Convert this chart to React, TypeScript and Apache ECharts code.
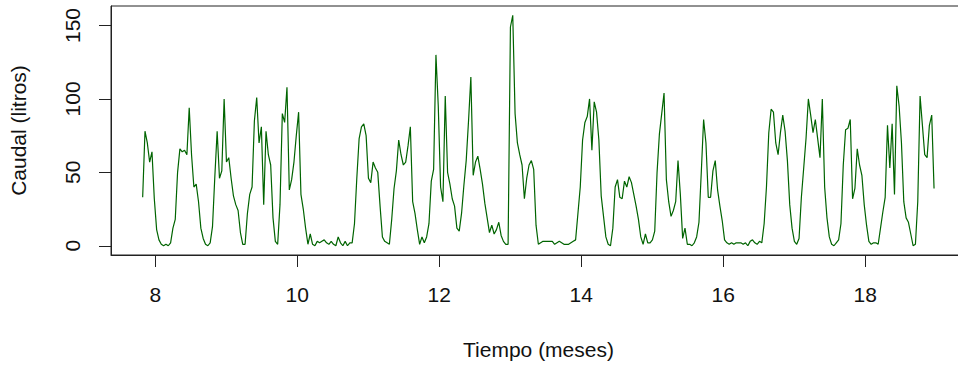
import React, { useEffect, useRef } from "react";
import * as echarts from "echarts";

// Serie diaria de caudal (litros), tiempo en meses
const tiempoInicio = 7.823;
const pasoDia = 0.032785;
const caudal = [
  33, 78, 70, 57, 64, 32, 11, 4, 1, 0, 1, 0, 2, 12, 18, 50, 66, 64, 65, 62,
  94, 62, 40, 42, 30, 12, 5, 1, 0, 2, 13, 47, 78, 46, 51, 100, 57, 60, 46, 34,
  28, 24, 9, 1, 1, 22, 35, 40, 85, 101, 70, 81, 28, 78, 62, 55, 19, 3, 1, 28,
  90, 84, 108, 38, 45, 57, 75, 91, 35, 25, 12, 1, 8, 1, 0, 3, 2, 3, 4, 2,
  1, 3, 1, 0, 6, 2, 0, 3, 0, 2, 2, 15, 46, 73, 81, 83, 75, 46, 43, 57,
  53, 50, 27, 6, 3, 2, 1, 18, 39, 51, 72, 62, 55, 57, 68, 81, 30, 22, 11, 1,
  6, 2, 6, 15, 44, 52, 130, 95, 40, 30, 102, 50, 42, 32, 27, 12, 10, 22, 41, 58,
  85, 115, 48, 57, 61, 52, 42, 29, 19, 9, 14, 8, 11, 16, 7, 3, 1, 1, 149, 157,
  90, 70, 62, 55, 32, 46, 55, 58, 52, 14, 1, 2, 3, 3, 3, 3, 3, 1, 2, 3,
  2, 1, 1, 1, 2, 3, 4, 22, 40, 72, 84, 88, 100, 65, 98, 91, 72, 34, 20, 6,
  1, 0, 12, 40, 45, 33, 32, 44, 40, 47, 43, 35, 27, 18, 6, 1, 8, 2, 2, 4,
  10, 50, 76, 90, 104, 45, 30, 20, 24, 30, 58, 35, 5, 12, 1, 1, 0, 2, 6, 16,
  50, 86, 70, 33, 33, 51, 58, 38, 27, 17, 4, 2, 1, 2, 1, 2, 2, 2, 1, 2,
  0, 3, 4, 2, 1, 3, 2, 15, 40, 77, 93, 91, 70, 62, 77, 89, 78, 58, 28, 12,
  3, 1, 5, 33, 53, 73, 100, 89, 77, 86, 73, 60, 100, 40, 19, 6, 1, 0, 2, 4,
  15, 55, 79, 80, 86, 32, 39, 66, 55, 48, 28, 14, 3, 1, 2, 2, 1, 12, 23, 33,
  82, 53, 83, 35, 109, 95, 70, 30, 19, 16, 8, 0, 1, 30, 102, 82, 62, 60, 82, 89,
  39,
];

const ticksX = [8, 10, 12, 14, 16, 18];
const ticksY = [0, 50, 100, 150];
const limX = [7.377, 19.42];
const limY = [-6.3, 163.3];

const fuente = "'Liberation Sans', Arial, sans-serif";

export default function App() {
  const ref = useRef<HTMLDivElement>(null);
  useEffect(() => {
    const chart = echarts.init(ref.current!, undefined, { renderer: "svg" });
    const datos = caudal.map((v, i) => [tiempoInicio + i * pasoDia, v]);
    chart.setOption({
      animation: false,
      backgroundColor: "#ffffff",
      grid: {
        show: true,
        left: 111,
        top: 6,
        width: 855,
        height: 252,
        borderColor: "#222",
        borderWidth: 1,
        backgroundColor: "transparent",
      },
      xAxis: {
        type: "value",
        min: limX[0],
        max: limX[1],
        name: "Tiempo (meses)",
        nameLocation: "middle",
        nameGap: 84,
        nameTextStyle: { fontFamily: fuente, fontSize: 21, color: "#111" },
        axisLine: { show: true, onZero: false, lineStyle: { color: "#222", width: 1 } },
        axisTick: { show: true, length: 12, customValues: ticksX, lineStyle: { color: "#222" } },
        axisLabel: {
          customValues: ticksX,
          margin: 29,
          fontFamily: fuente,
          fontSize: 21,
          color: "#111",
        },
        splitLine: { show: false },
      },
      yAxis: {
        type: "value",
        min: limY[0],
        max: limY[1],
        name: "Caudal (litros)",
        nameLocation: "middle",
        nameRotate: 90,
        nameGap: 82,
        nameTextStyle: { fontFamily: fuente, fontSize: 21, color: "#111" },
        axisLine: { show: true, onZero: false, lineStyle: { color: "#222", width: 1 } },
        axisTick: { show: true, length: 12, customValues: ticksY, lineStyle: { color: "#222" } },
        axisLabel: {
          customValues: ticksY,
          rotate: 90,
          margin: 28,
          fontFamily: fuente,
          fontSize: 21,
          color: "#111",
        },
        splitLine: { show: false },
      },
      series: [
        {
          type: "line",
          data: datos,
          showSymbol: false,
          symbol: "none",
          lineStyle: { color: "#006400", width: 1.2 },
          itemStyle: { color: "#006400" },
        },
      ],
    });
    return () => chart.dispose();
  }, []);
  return (
    <div
      style={{
        position: "absolute",
        left: 0,
        top: 0,
        width: 958,
        height: 365,
        overflow: "hidden",
        background: "#fff",
      }}
    >
      <div ref={ref} style={{ width: 990, height: 365 }} />
    </div>
  );
}
